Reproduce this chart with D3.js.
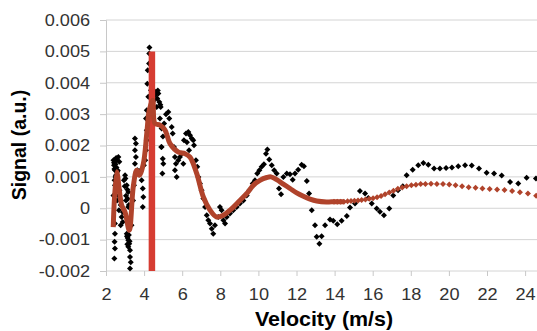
<!DOCTYPE html>
<html>
<head>
<meta charset="utf-8">
<script src="https://cdn.jsdelivr.net/npm/d3@7"></script>
<style>
  body { margin: 0; background: #fff; }
  svg { display: block; font-family: "Liberation Sans", Arial, sans-serif; }
</style>
</head>
<body>
<figure id="signal" style="margin:0"></figure>
<script>
// measured signal (black markers)
const blackVelocity = [
  2.39, 2.42, 2.47, 2.52, 2.45, 2.56, 2.59, 2.65, 2.70, 2.47,
  2.39, 2.47, 2.47, 2.45, 2.47, 2.44, 2.58, 2.68, 2.77, 2.82,
  2.88, 2.77, 2.71, 2.79, 2.89, 3.00, 3.09, 3.17, 3.05, 3.17,
  2.94, 3.09, 3.17, 3.10, 3.17, 3.22, 3.26, 3.26, 3.30, 3.26,
  3.34, 3.42, 3.47, 3.52, 3.57, 3.52, 3.57, 3.52, 3.65, 3.73,
  3.82, 3.87, 3.93, 3.96, 3.93, 3.99, 4.06, 4.10, 4.14, 4.14,
  4.10, 4.14, 4.22, 4.17, 4.19, 4.26, 4.27, 4.28, 4.36, 4.52,
  4.62, 4.69, 4.75, 4.80, 4.66, 4.83, 4.92, 4.92, 4.98, 5.01,
  4.96, 4.87, 4.99, 5.27, 5.32, 5.45, 5.50, 5.57, 5.62, 5.67,
  5.62, 5.71, 5.80, 5.88, 5.97, 6.06, 6.09, 6.20, 6.32, 6.41,
  6.50, 6.58, 6.62, 6.25, 6.36, 6.72, 6.79, 6.85, 6.93, 7.02,
  7.11, 7.20, 7.29, 7.37, 7.46, 7.55, 7.63, 7.72, 7.89, 7.98,
  8.07, 8.16, 8.25, 8.34, 8.51, 8.68, 8.86, 9.03, 9.21, 9.39,
  9.52, 9.70, 9.82, 9.94, 10.05, 10.17, 10.29, 10.40, 10.47, 10.57,
  10.70, 10.83, 10.96, 11.08, 11.19, 11.31, 11.49, 11.66, 11.80, 11.92,
  12.09, 12.27, 12.39, 12.54, 12.66, 12.80, 12.97, 13.06, 13.20, 13.32,
  13.50, 13.76, 13.93, 14.14, 14.37, 14.64, 14.81, 15.07, 15.33, 15.60,
  15.77, 15.95, 16.21, 16.38, 16.59, 16.87, 17.08, 17.33, 17.58, 17.78,
  18.10, 18.39, 18.66, 18.92, 19.22, 19.53, 19.85, 20.16, 20.49, 20.85,
  21.20, 21.58, 21.98, 22.37, 22.77, 23.21, 23.64, 24.08, 24.57,
  2.42, 2.50, 2.55, 2.62, 2.50, 2.58, 2.63, 2.44, 2.66, 2.53,
  3.02, 3.12, 3.14, 3.20, 3.05, 2.98, 3.14, 3.20, 3.24, 3.12,
  4.58, 4.72, 4.85, 5.05, 5.15, 4.90
];
const blackSignal = [
  0.00153, 0.00137, 0.00121, 0.00105, 0.00089, 0.00153, 0.00116, 0.00163, 0.00148, 0.00073,
  0.00041, -0.00049, -0.00081, -0.00107, -0.00128, -0.00160, 0.00025, -0.00006, 0.00010, -0.00028,
  -0.00044, -0.00054, 0.00057, 0.00025, -0.00013, 0.00105, 0.00073, 0.00052, 0.00025, 0.00004,
  0.00089, -0.00081, -0.00102, -0.00089, -0.00123, -0.00113, -0.00134, -0.00155, -0.00172, -0.00192,
  -0.00054, 0.00025, 0.00073, 0.00142, 0.00163, 0.00185, 0.00206, 0.00222, 0.00121, 0.00115,
  0.00121, 0.00089, 0.00063, 0.00036, 0.00004, 0.00137, 0.00153, 0.00185, 0.00217, 0.00249,
  0.00286, 0.00312, 0.00355, 0.00397, 0.00440, 0.00461, 0.00493, 0.00512, 0.00376, 0.00344,
  0.00371, 0.00350, 0.00366, 0.00339, 0.00323, 0.00286, 0.00254, 0.00195, 0.00158, 0.00142,
  0.00111, 0.00323, 0.00229, 0.00307, 0.00286, 0.00259, 0.00238, 0.00195, 0.00163, 0.00142,
  0.00121, 0.00100, 0.00153, 0.00163, 0.00174, 0.00142, 0.00217, 0.00238, 0.00243, 0.00233,
  0.00222, 0.00217, 0.00201, 0.00210, 0.00185, 0.00153, 0.00132, 0.00100, 0.00079, 0.00057,
  0.00031, 0.00004, -0.00022, -0.00038, -0.00049, -0.00065, -0.00081, -0.00054, -0.00028, 0.00004,
  -0.00006, -0.00038, -0.00049, -0.00028, -0.00017, -0.00006, 0.00004, 0.00015, 0.00025, 0.00041,
  0.00057, 0.00079, 0.00089, 0.00111, 0.00121, 0.00132, 0.00140, 0.00174, 0.00187, 0.00155,
  0.00137, 0.00121, 0.00111, 0.00063, 0.00045, 0.00100, 0.00111, 0.00108, 0.00091, 0.00111,
  0.00123, 0.00139, 0.00134, 0.00087, 0.00047, -0.00006, -0.00054, -0.00091, -0.00113, -0.00089,
  -0.00054, -0.00036, -0.00040, -0.00051, -0.00040, -0.00025, 0.00002, 0.00015, 0.00055, 0.00047,
  0.00033, 0.00015, -0.00001, -0.00011, -0.00022, -0.00001, 0.00041, 0.00057, 0.00070, 0.00105,
  0.00123, 0.00137, 0.00144, 0.00139, 0.00127, 0.00127, 0.00128, 0.00130, 0.00134, 0.00137,
  0.00136, 0.00127, 0.00113, 0.00111, 0.00104, 0.00084, 0.00079, 0.00097, 0.00095,
  0.00145, 0.00140, 0.00130, 0.00120, 0.00100, 0.00085, 0.00070, 0.00125, 0.00040, 0.00160,
  0.00095, 0.00060, 0.00030, 0.00010, 0.00040, 0.00070, -0.00095, -0.00085, -0.00105, -0.00115,
  0.00360, 0.00375, 0.00330, 0.00270, 0.00300, 0.00195
];

// smoothed fit (brown)
const fitVelocity = [
  2.38, 2.56, 2.82, 3.00, 3.22, 3.43, 3.61, 3.75, 3.96, 4.14,
  4.27, 4.45, 4.57, 4.83, 5.10, 5.36, 5.80, 6.15, 6.41, 6.76,
  7.11, 7.46, 7.81, 8.16, 8.51, 9.03, 9.39, 9.73, 10.08, 10.44,
  10.66, 10.96, 11.31, 11.66, 12.01, 12.36, 12.71, 13.06, 13.58,
  13.97, 14.14, 14.32, 14.49, 14.68, 14.86, 15.04, 15.23, 15.42, 15.62,
  15.82, 16.02, 16.23, 16.44, 16.65, 16.87, 17.09, 17.32, 17.55, 17.78,
  18.03, 18.27, 18.52, 18.77, 19.06, 19.37, 19.69, 20.02, 20.35, 20.69,
  21.04, 21.40, 21.76, 22.14, 22.53, 22.92, 23.32, 23.73, 24.15, 24.58
];
const fitSignal = [
  -0.00060, 0.00116, 0.00010, -0.00012, -0.00070, 0.00068, 0.00121, 0.00105, 0.00142, 0.00238,
  0.00312, 0.00344, 0.00270, 0.00265, 0.00249, 0.00206, 0.00179, 0.00174, 0.00163, 0.00111,
  0.00036, -0.00006, -0.00028, -0.00022, -0.00006, 0.00025, 0.00047, 0.00073, 0.00089, 0.00098,
  0.00100, 0.00091, 0.00077, 0.00063, 0.00049, 0.00038, 0.00029, 0.00023, 0.00020,
  0.00021, 0.00021, 0.00021, 0.00021, 0.00022, 0.00023, 0.00024, 0.00025, 0.00026, 0.00028,
  0.00030, 0.00032, 0.00035, 0.00039, 0.00045, 0.00050, 0.00056, 0.00062, 0.00066, 0.00070,
  0.00073, 0.00075, 0.00077, 0.00077, 0.00078, 0.00077, 0.00077, 0.00076, 0.00073, 0.00070,
  0.00067, 0.00065, 0.00063, 0.00061, 0.00060, 0.00058, 0.00055, 0.00051, 0.00047, 0.00040
];

// red spike
const spikeVelocity = [4.41, 4.41];
const spikeSignal = [0.005, -0.002];

const xTicks = [2, 4, 6, 8, 10, 12, 14, 16, 18, 20, 22, 24];
const yTicks = [-0.002, -0.001, 0, 0.001, 0.002, 0.003, 0.004, 0.005, 0.006];

const W = 537, H = 331;
const plotLeft = 106, plotTop = 20, plotBottom = 271;

const svg = d3.select("figure#signal")
  .append("svg")
  .attr("width", W)
  .attr("height", H);

const x = d3.scaleLinear().domain([2, 25]).range([plotLeft, plotLeft + 23 * 19.05]);
const y = d3.scaleLinear().domain([-0.002, 0.006]).range([plotBottom, plotTop]);

// gridlines
svg.append("g")
  .selectAll("line")
  .data(yTicks)
  .enter()
  .append("line")
  .attr("x1", plotLeft).attr("x2", W)
  .attr("y1", d => y(d)).attr("y2", d => y(d))
  .attr("stroke", "#d4d4d4")
  .attr("stroke-width", 1);

// y axis
const yAxis = svg.append("g")
  .attr("transform", "translate(" + plotLeft + ",0)")
  .call(d3.axisLeft(y).tickValues(yTicks).tickSize(6).tickPadding(8.5));
yAxis.select(".domain").attr("stroke", "#c8c8c8");
yAxis.selectAll(".tick line").attr("stroke", "#c8c8c8");
yAxis.selectAll("text")
  .attr("font-size", 16.5)
  .attr("fill", "#333")
  .attr("transform", "scale(1.1,1)")
  .text(d => d === 0 ? "0" : d3.format(".3f")(d).replace("\u2212", "-"));

// x axis
const xAxis = svg.append("g")
  .attr("transform", "translate(0," + plotBottom + ")")
  .call(d3.axisBottom(x).tickValues(xTicks).tickSize(5).tickPadding(12).tickFormat(d3.format("d")));
xAxis.select(".domain").remove();
xAxis.selectAll(".tick line").attr("stroke", "#c8c8c8");
xAxis.selectAll("text")
  .attr("font-size", 16.5)
  .attr("fill", "#333")
  .attr("transform", "scale(1.1,1)");

// clip to plot area
svg.append("clipPath").attr("id", "plot")
  .append("rect")
  .attr("x", plotLeft).attr("y", 0)
  .attr("width", W - plotLeft).attr("height", plotBottom + 3);

const plot = svg.append("g").attr("clip-path", "url(#plot)");

const diamond = d3.symbol().type(d3.symbolSquare).size(18);

// black points
const blackData = d3.zip(blackVelocity, blackSignal);
plot.append("g")
  .selectAll("path")
  .data(blackData)
  .enter()
  .append("path")
  .attr("d", diamond)
  .attr("transform", d => "translate(" + x(d[0]) + "," + y(d[1]) + ") rotate(45)")
  .attr("fill", "#000");

// red spike
const spikeData = d3.zip(spikeVelocity, spikeSignal);
plot.append("path")
  .datum(spikeData)
  .attr("d", d3.line().x(d => x(d[0])).y(d => y(d[1])))
  .attr("stroke", "#d63c32")
  .attr("stroke-width", 6.5)
  .attr("fill", "none");

// fit: thick line where markers overlap, markers where they separate
const fitData = d3.zip(fitVelocity, fitSignal);
plot.append("path")
  .datum(fitData.filter(d => d[0] <= 14.5))
  .attr("d", d3.line().curve(d3.curveCatmullRom.alpha(0.5)).x(d => x(d[0])).y(d => y(d[1])))
  .attr("stroke", "#b0432b")
  .attr("stroke-width", 5)
  .attr("stroke-linejoin", "round")
  .attr("fill", "none");

plot.append("g")
  .selectAll("path")
  .data(fitData.filter(d => d[0] >= 13.9))
  .enter()
  .append("path")
  .attr("d", diamond)
  .attr("transform", d => "translate(" + x(d[0]) + "," + y(d[1]) + ") rotate(45)")
  .attr("fill", "#b0432b");

// axis titles
svg.append("text")
  .attr("transform", "translate(26,145) rotate(-90)")
  .attr("text-anchor", "middle")
  .attr("font-size", 19.5)
  .attr("font-weight", "bold")
  .text("Signal (a.u.)");

svg.append("text")
  .attr("transform", "translate(324,326) scale(1.1,1)")
  .attr("text-anchor", "middle")
  .attr("font-size", 19.5)
  .attr("font-weight", "bold")
  .text("Velocity (m/s)");
</script>
</body>
</html>
